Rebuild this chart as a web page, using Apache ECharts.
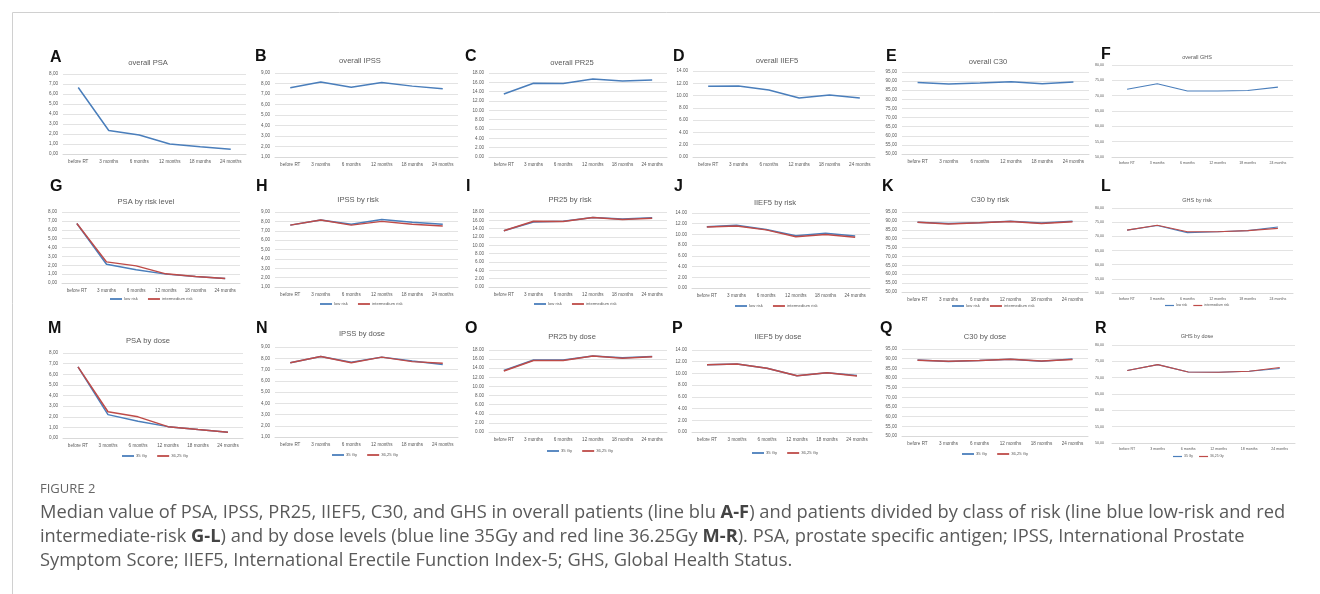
<!DOCTYPE html>
<html><head><meta charset="utf-8">
<script src="https://cdn.jsdelivr.net/npm/echarts@6/dist/echarts.min.js"></script>
<style>html,body{margin:0;padding:0;background:#fff}#c{width:1320px;height:594px}</style>
</head><body><div id="c"></div>
<script>
// ---------- data ----------
const categories = ['before RT', '3 months', '6 months', '12 months', '18 months', '24 months'];

const psaOverall   = [6.65, 2.35, 1.90, 1.00, 0.72, 0.48];
const ipssOverall  = [7.60, 8.15, 7.65, 8.10, 7.75, 7.50];
const pr25Overall  = [13.5, 15.8, 15.75, 16.7, 16.3, 16.5];
const iief5Overall = [11.5, 11.55, 10.9, 9.6, 10.1, 9.6];
const c30Overall   = [89.2, 88.4, 89.0, 89.7, 88.6, 89.5];
const ghsOverall   = [72.1, 73.9, 71.5, 71.5, 71.7, 72.8];

const psaLow   = [6.70, 2.12, 1.49, 1.00, 0.74, 0.50];
const psaInt   = [6.70, 2.38, 1.93, 1.03, 0.74, 0.50];
const ipssLow  = [7.60, 8.15, 7.70, 8.20, 7.90, 7.70];
const ipssInt  = [7.60, 8.15, 7.60, 8.00, 7.70, 7.50];
const pr25Low  = [13.5, 15.6, 15.8, 16.7, 16.3, 16.6];
const pr25Int  = [13.5, 15.8, 15.7, 16.7, 16.2, 16.5];
const iief5Low = [11.45, 11.7, 10.9, 9.77, 10.2, 9.7];
const iief5Int = [11.39, 11.57, 10.85, 9.58, 10.0, 9.46];
const c30Low   = [89.3, 88.5, 89.0, 89.8, 88.8, 89.8];
const c30Int   = [89.2, 88.3, 88.9, 89.7, 88.5, 89.5];
const ghsLow   = [72.2, 73.8, 71.3, 71.6, 72.0, 73.3];
const ghsInt   = [72.2, 73.9, 71.6, 71.6, 72.0, 72.8];

const psa35    = [6.70, 2.20, 1.58, 1.07, 0.80, 0.54];
const psa3625  = [6.70, 2.47, 1.99, 1.07, 0.80, 0.54];
const ipss35   = [7.60, 8.15, 7.65, 8.10, 7.75, 7.45];
const ipss3625 = [7.60, 8.15, 7.60, 8.10, 7.70, 7.55];
const pr2535   = [13.5, 15.8, 15.8, 16.7, 16.3, 16.6];
const pr253625 = [13.4, 15.7, 15.7, 16.7, 16.2, 16.5];
const iief535  = [11.5, 11.6, 10.9, 9.6, 10.1, 9.65];
const iief53625= [11.5, 11.6, 10.9, 9.6, 10.1, 9.55];
const c3035    = [89.3, 88.5, 89.0, 89.7, 88.7, 89.8];
const c303625  = [89.2, 88.6, 89.1, 89.7, 88.8, 89.6];
const ghs35    = [72.2, 74.0, 71.75, 71.65, 71.96, 72.8];
const ghs3625  = [72.2, 74.0, 71.75, 71.65, 71.96, 73.1];

const riskNames = ['low risk', 'intermedium risk'];
const doseNames = ['35 Gy', '36,25 Gy'];

// ---------- layout ----------
const BLUE = '#4A7EBB', RED = '#BE4B48', TXT = '#595959', GRID = '#E3E3E3';
const PSA = [0, 8, 1], IPSS = [1, 9, 1], PR25 = [0, 18, 2], IIEF = [0, 14, 2], C30 = [50, 95, 5], GHS = [50, 80, 5];

const panels = [
  {L:'A', T:'overall PSA',     g:[63,74,183,80],  t:[148,63],  l:[50,50],  y:PSA,  d:',', s:[psaOverall]},
  {L:'B', T:'overall IPSS',    g:[275,73,183,84], t:[360,61],  l:[255,49], y:IPSS, d:',', s:[ipssOverall]},
  {L:'C', T:'overall PR25',    g:[489,73,178,84], t:[572,63],  l:[465,49], y:PR25, d:'.', s:[pr25Overall]},
  {L:'D', T:'overall IIEF5',   g:[693,71,182,86], t:[777,61],  l:[673,49], y:IIEF, d:'.', s:[iief5Overall]},
  {L:'E', T:'overall C30',     g:[902,72,187,82], t:[988,62],  l:[886,49], y:C30,  d:',', s:[c30Overall]},
  {L:'F', T:'overall GHS',     g:[1112,65,181,92],t:[1197,57], l:[1101,47],y:GHS,  d:',', s:[ghsOverall], small:true},

  {L:'G', T:'PSA by risk level',g:[62,212,178,71], t:[146,202], l:[50,179], y:PSA,  d:',', s:[psaLow, psaInt], n:riskNames, lg:[110,297]},
  {L:'H', T:'IPSS by risk',    g:[275,212,183,75], t:[358,200], l:[256,179],y:IPSS, d:',', s:[ipssLow, ipssInt], n:riskNames, lg:[320,302]},
  {L:'I', T:'PR25 by risk',    g:[489,212,178,75], t:[570,200], l:[466,179],y:PR25, d:'.', s:[pr25Low, pr25Int], n:riskNames, lg:[534,302]},
  {L:'J', T:'IIEF5 by risk',   g:[692,213,178,75], t:[775,203], l:[674,179],y:IIEF, d:'.', s:[iief5Low, iief5Int], n:riskNames, lg:[735,304]},
  {L:'K', T:'C30 by risk',     g:[902,212,186,80], t:[990,200], l:[882,179],y:C30,  d:',', s:[c30Low, c30Int], n:riskNames, lg:[952,304]},
  {L:'L', T:'GHS by risk',     g:[1112,208,181,85],t:[1197,200],l:[1101,179],y:GHS, d:',', s:[ghsLow, ghsInt], n:riskNames, lg:[1165,304], small:true},

  {L:'M', T:'PSA by dose',     g:[63,353,180,85], t:[148,341], l:[48,321], y:PSA,  d:',', s:[psa35, psa3625], n:doseNames, lg:[122,454]},
  {L:'N', T:'IPSS by dose',    g:[275,347,183,90], t:[362,334], l:[256,321],y:IPSS, d:',', s:[ipss35, ipss3625], n:doseNames, lg:[332,453]},
  {L:'O', T:'PR25 by dose',    g:[489,350,178,82], t:[572,337], l:[465,321],y:PR25, d:'.', s:[pr2535, pr253625], n:doseNames, lg:[547,449]},
  {L:'P', T:'IIEF5 by dose',   g:[692,350,180,82], t:[778,337], l:[672,321],y:IIEF, d:'.', s:[iief535, iief53625], n:doseNames, lg:[752,451]},
  {L:'Q', T:'C30 by dose',     g:[902,349,186,87], t:[985,337], l:[880,321],y:C30,  d:',', s:[c3035, c303625], n:doseNames, lg:[962,452]},
  {L:'R', T:'GHS by dose',     g:[1112,345,183,98],t:[1197,336],l:[1095,321],y:GHS, d:',', s:[ghs35, ghs3625], n:doseNames, lg:[1173,455], small:true}
];

const grid = [], xAxis = [], yAxis = [], series = [], legend = [], graphic = [];
panels.forEach((p, i) => {
  const lab = p.small ? 3.6 : 4.6;
  grid.push({left:p.g[0], top:p.g[1], width:p.g[2], height:p.g[3]});
  xAxis.push({type:'category', gridIndex:i, data:categories, boundaryGap:true,
    axisLine:{lineStyle:{color:'#D9D9D9', width:1}}, axisTick:{show:false},
    axisLabel:{fontSize:lab, color:TXT, margin:p.small?4:5, interval:0, fontFamily:'Liberation Sans'}});
  yAxis.push({type:'value', gridIndex:i, min:p.y[0], max:p.y[1], interval:p.y[2],
    axisLine:{show:false}, axisTick:{show:false},
    splitLine:{lineStyle:{color:GRID, width:1}},
    axisLabel:{fontSize:lab, color:TXT, margin:p.small?8:5, fontFamily:'Liberation Sans',
      formatter:v => v.toFixed(2).replace('.', p.d)}});
  p.s.forEach((arr, k) => {
    series.push({type:'line', name: p.n ? p.n[k] : 'overall', xAxisIndex:i, yAxisIndex:i, data:arr,
      symbol:'none', silent:true, color: k ? RED : BLUE,
      lineStyle:{width: p.small ? 1.1 : 1.5, color: k ? RED : BLUE}});
  });
  if (p.n) {
    legend.push({data:p.n, left:p.lg[0], top:p.lg[1], icon:'rect', itemWidth:p.small?9:12, itemHeight:p.small?1.2:1.8,
      itemGap:p.small?6:10, selectedMode:false, padding:0,
      textStyle:{fontSize:p.small?3.4:4.2, color:TXT, fontFamily:'Liberation Sans', padding:[0,0,0,-3]}});
  }
  graphic.push({type:'text', x:p.l[0], y:p.l[1], silent:true,
    style:{text:p.L, fill:'#111', font:'bold 16px "Liberation Sans"'}});
  graphic.push({type:'text', x:p.t[0], y:p.t[1], silent:true,
    style:{text:p.T, fill:TXT, font:(p.small?'5.5px':'7.6px') + ' "Liberation Sans"', textAlign:'center', textVerticalAlign:'middle'}});
});

// frame and caption
graphic.push({type:'rect', shape:{x:12.5, y:12.5, width:1400, height:700}, silent:true,
  style:{fill:'none', stroke:'#D0D0D0', lineWidth:1}});
graphic.push({type:'text', x:40, y:489, silent:true,
  style:{text:'FIGURE 2', fill:'#666', font:'13px "Open Sans"', textVerticalAlign:'middle'}});
const capLines = [
  'Median value of PSA, IPSS, PR25, IIEF5, C30, and GHS in overall patients (line blu {b|A-F}) and patients divided by class of risk (line blue low-risk and red',
  'intermediate-risk {b|G-L}) and by dose levels (blue line 35Gy and red line 36.25Gy {b|M-R}). PSA, prostate specific antigen; IPSS, International Prostate',
  'Symptom Score; IIEF5, International Erectile Function Index-5; GHS, Global Health Status.'
];
capLines.forEach((t, k) => {
  graphic.push({type:'text', x:40, y:513 + k*24, silent:true,
    style:{text:t, fill:'#5a5a5a', font:'18.3px "Open Sans"', textVerticalAlign:'middle',
      rich:{b:{fontWeight:'bold', fontSize:18.3, fontFamily:'Open Sans', fill:'#444'}}}});
});

const chart = echarts.init(document.getElementById('c'), null, {renderer:'canvas'});
chart.setOption({animation:false, backgroundColor:'#fff', grid, xAxis, yAxis, series, legend, graphic});
</script></body></html>
